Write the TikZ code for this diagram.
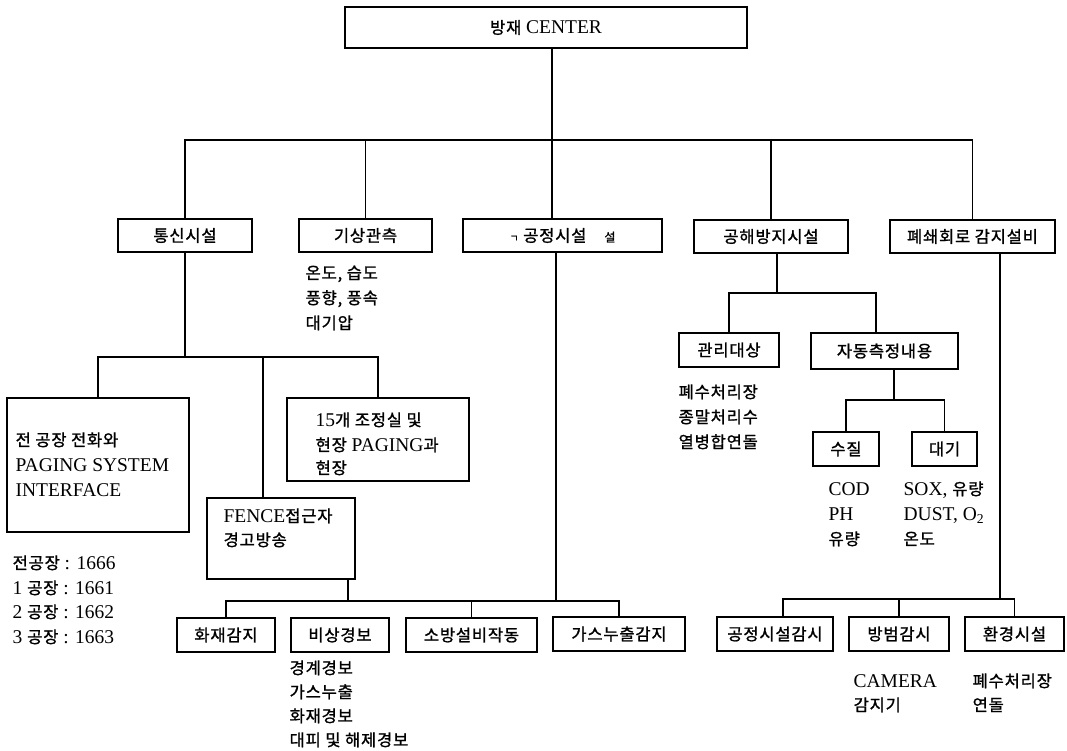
\documentclass[tikz,border=0pt]{standalone}
\usepackage{fontspec}
\setmainfont{Liberation Serif}[Scale=1.18]
\newfontfamily\kr{Noto Sans CJK KR}[LetterSpace=5,FakeBold=1.2]
\newcommand\hkr[1]{{\kr #1}}
\begin{document}
\begin{tikzpicture}[x=1pt,y=-1pt,line width=1.3pt,
  font=\fontsize{16.5}{25}\selectfont,
  box/.style={draw,line width=1.6pt,rectangle,inner sep=0pt},
  note/.style={anchor=base west,inner sep=0pt}]
\useasboundingbox (0,0) rectangle (1067,751);
% ---------- boxes ----------
\node[box,minimum width=402pt,minimum height=41pt] (top) at (546,27.5) {\hkr{방재} CENTER};
\node[box,minimum width=134pt,minimum height=33pt] (tong) at (185,235.5) {\hkr{통신시설}};
\node[box,minimum width=133pt,minimum height=33pt] (gisang) at (365.5,235.5) {\hkr{기상관측}};
\node[box,minimum width=199pt,minimum height=33pt] (gongjeong) at (562.5,235.5) {\hkr{{\fontsize{10}{10}\selectfont ㄱ} 공정시설\hspace{18pt}{\fontsize{12}{12}\selectfont 설}}};
\node[box,minimum width=154pt,minimum height=33pt] (gonghae) at (771,236.5) {\hkr{공해방지시설}};
\node[box,minimum width=165pt,minimum height=33pt] (cctv) at (972.5,236.5) {\hkr{폐쇄회로 감지설비}};
\node[box,minimum width=182pt,minimum height=134pt] (phone) at (98,465) {};
\node[box,minimum width=182pt,minimum height=83pt] (page15) at (378,439.5) {};
\node[box,minimum width=148pt,minimum height=81pt] (fence) at (281,538.5) {};
\node[box,minimum width=100pt,minimum height=34pt] (gwanri) at (729,350) {\hkr{관리대상}};
\node[box,minimum width=147pt,minimum height=36pt] (jadong) at (884.5,351) {\hkr{자동측정내용}};
\node[box,minimum width=66pt,minimum height=34pt] (sujil) at (846,449) {\hkr{수질}};
\node[box,minimum width=65pt,minimum height=34pt] (daegi) at (944.5,449) {\hkr{대기}};
\node[box,minimum width=98pt,minimum height=34pt] (hwajae) at (226,635) {\hkr{화재감지}};
\node[box,minimum width=98pt,minimum height=34pt] (bisang) at (340,635) {\hkr{비상경보}};
\node[box,minimum width=131pt,minimum height=34pt] (sobang) at (471.5,635) {\hkr{소방설비작동}};
\node[box,minimum width=132pt,minimum height=34pt] (gas) at (619,634) {\hkr{가스누출감지}};
\node[box,minimum width=116pt,minimum height=34pt] (gsgs) at (775,634) {\hkr{공정시설감시}};
\node[box,minimum width=100pt,minimum height=34pt] (bangbeom) at (899,634) {\hkr{방범감시}};
\node[box,minimum width=99pt,minimum height=34pt] (hwangyeong) at (1014.5,634) {\hkr{환경시설}};
% ---------- connectors ----------
\coordinate (t0) at (552,140);
\draw (top.south -| t0) -- (t0);
\draw (tong.north) -- (tong.north |- t0) -- (cctv.north |- t0) -- (cctv.north);
\draw (gisang.north) -- (gisang.north |- t0);
\draw (t0) -- (gongjeong.north -| t0);
\draw (gonghae.north) -- (gonghae.north |- t0);
% communication subtree
\coordinate (s1) at (263,357);
\draw (tong.south) -- (tong.south |- s1);
\draw (phone.north) -- (phone.north |- s1) -- (page15.north |- s1) -- (page15.north);
\draw (s1) -- (fence.north -| s1);
% lower left bus
\coordinate (l1) at (348,601);
\coordinate (l2) at (556,601);
\draw (fence.south -| l1) -- (l1);
\draw (hwajae.north) -- (hwajae.north |- l1) -- (gas.north |- l1) -- (gas.north);
\draw (sobang.north) -- (sobang.north |- l1);
\draw (gongjeong.south -| l2) -- (l2);
% pollution subtree
\coordinate (g0) at (777,293);
\coordinate (g2) at (876,293);
\draw (gonghae.south -| g0) -- (g0);
\draw (gwanri.north) -- (gwanri.north |- g0) -- (g2) -- (jadong.north -| g2);
\coordinate (j0) at (894,400);
\draw (jadong.south -| j0) -- (j0);
\draw (sujil.north) -- (sujil.north |- j0) -- (daegi.north |- j0) -- (daegi.north);
% cctv subtree
\coordinate (r0) at (1000,599);
\coordinate (r1) at (783,599);
\draw (cctv.south -| r0) -- (r0);
\draw (gsgs.north -| r1) -- (r1) -- (hwangyeong.north |- r1) -- (hwangyeong.north);
\draw (bangbeom.north) -- (bangbeom.north |- r1);
% ---------- texts ----------
\node[note] (gs1) at (305,279) {\hkr{온도, 습도}};
\node[note] (gs2) at (305,304) {\hkr{풍향, 풍속}};
\node[note] (gs3) at (305,329) {\hkr{대기압}};
\node[note] (ph1) at (15,446) {\hkr{전 공장 전화와}};
\node[note] (ph2) at (15,471) {PAGING SYSTEM};
\node[note] (ph3) at (15,496) {INTERFACE};
\node[note] (pg1) at (315,426) {15\hkr{개 조정실 및}};
\node[note] (pg2) at (315,451) {\hkr{현장} PAGING\hkr{과}};
\node[note] (pg3) at (315,474) {\hkr{현장}};
\node[note] (fe1) at (223,522) {FENCE\hkr{접근자}};
\node[note] (fe2) at (223,546) {\hkr{경고방송}};
\node[note] (ln1) at (12,569) {\hkr{전공장} : 1666};
\node[note] (ln2) at (12,594) {1 \hkr{공장} : 1661};
\node[note] (ln3) at (12,618) {2 \hkr{공장} : 1662};
\node[note] (ln4) at (12,643) {3 \hkr{공장} : 1663};
\node[note] (bs1) at (289,674) {\hkr{경계경보}};
\node[note] (bs2) at (289,698) {\hkr{가스누출}};
\node[note] (bs3) at (289,722) {\hkr{화재경보}};
\node[note] (bs4) at (289,746) {\hkr{대피 및 해제경보}};
\node[note] (gw1) at (678,398) {\hkr{폐수처리장}};
\node[note] (gw2) at (678,423) {\hkr{종말처리수}};
\node[note] (gw3) at (678,448) {\hkr{열병합연돌}};
\node[note] (sj1) at (828,495) {COD};
\node[note] (sj2) at (828,520) {PH};
\node[note] (sj3) at (828,545) {\hkr{유량}};
\node[note] (dg1) at (903,495) {SOX, \hkr{유량}};
\node[note] (dg2) at (903,520) {DUST, O\textsubscript{2}};
\node[note] (dg3) at (903,545) {\hkr{온도}};
\node[note] (bb1) at (853,687) {CAMERA};
\node[note] (bb2) at (853,711) {\hkr{감지기}};
\node[note] (hw1) at (972,687) {\hkr{폐수처리장}};
\node[note] (hw2) at (972,711) {\hkr{연돌}};
\end{tikzpicture}
\end{document}
